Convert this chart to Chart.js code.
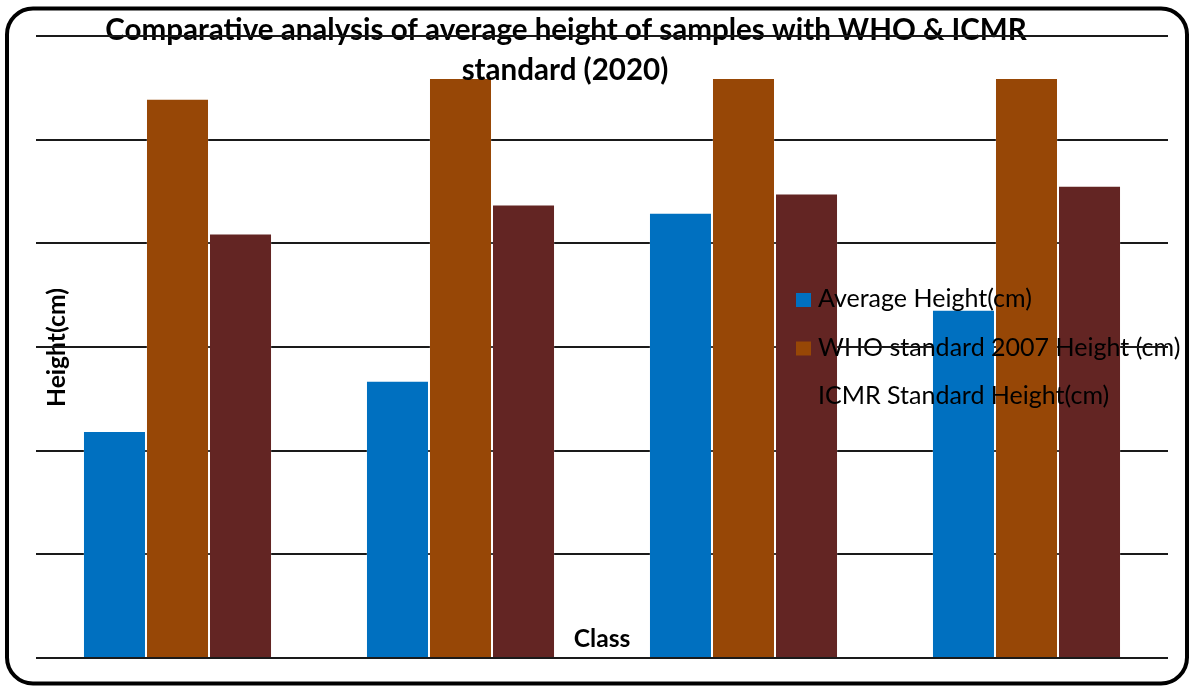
<!DOCTYPE html>
<html>
<head>
<meta charset="utf-8">
<script src="https://cdn.jsdelivr.net/npm/chart.js@4.4.1/dist/chart.umd.min.js"></script>
<style>
  html, body { margin: 0; padding: 0; background: #fff; }
  canvas { display: block; }
</style>
</head>
<body>
<canvas id="heightChart" width="1189" height="686"></canvas>
<script>
// Class-wise heights (cm)
const classes = ['Class I', 'Class II', 'Class III', 'Class IV'];
const averageHeight = [43.8, 53.5, 85.9, 67.2];
const whoHeight = [107.9, 111.9, 111.9, 111.9];
const icmrHeight = [81.9, 87.5, 89.6, 91.1];

const seriesNames = ['Average Height(cm)', 'WHO standard 2007 Height (cm)', 'ICMR Standard Height(cm)'];
const seriesColors = ['#0070C0', '#974706', '#632523'];

const titleLines = ['Comparative analysis of average height of samples with WHO & ICMR', 'standard (2020)'];
const yAxisTitle = 'Height(cm)';
const xAxisTitle = 'Class';

const yMin = 0, yMax = 120, yStep = 20;

const FONT = 'Lato, "Open Sans", "DejaVu Sans", sans-serif';
const GRID_COLOR = '#1a1a1a';

// pick a font size so that the text spans the wanted width
function fitSize(ctx, text, weight, width) {
  ctx.font = weight + ' 100px ' + FONT;
  return 100 * width / ctx.measureText(text).width;
}

// rounded outer frame, behind everything
const framePlugin = {
  id: 'frame',
  beforeDraw(chart) {
    const ctx = chart.ctx;
    ctx.save();
    ctx.fillStyle = '#fff';
    ctx.fillRect(0, 0, chart.width, chart.height);
    ctx.beginPath();
    ctx.roundRect(7, 8.5, 1180, 675, 26);
    ctx.lineWidth = 4;
    ctx.strokeStyle = '#000';
    ctx.stroke();
    ctx.restore();
  }
};

// titles and legend drawn over the bars; grid lines redrawn over them where no bar covers
const overlayPlugin = {
  id: 'overlay',
  afterDraw(chart) {
    const ctx = chart.ctx;
    const area = chart.chartArea;
    ctx.save();
    ctx.fillStyle = '#000';

    // chart title
    const tSize = fitSize(ctx, titleLines[0], 'bold', 922);
    ctx.font = 'bold ' + tSize + 'px ' + FONT;
    ctx.textAlign = 'center';
    ctx.textBaseline = 'alphabetic';
    ctx.fillText(titleLines[0], 566, 40);
    ctx.fillText(titleLines[1], 565, 80);

    // axis titles
    const ySize = fitSize(ctx, yAxisTitle, 'bold', 119);
    ctx.font = 'bold ' + ySize + 'px ' + FONT;
    ctx.save();
    ctx.translate(65, 347.5);
    ctx.rotate(-Math.PI / 2);
    ctx.fillText(yAxisTitle, 0, 0);
    ctx.restore();
    ctx.fillText(xAxisTitle, 602, 647);

    // legend
    const lSize = fitSize(ctx, seriesNames[0], 'normal', 214);
    ctx.font = 'normal ' + lSize + 'px ' + FONT;
    ctx.textAlign = 'left';
    chart.data.datasets.forEach((ds, i) => {
      const base = 307 + i * 48.5;
      ctx.fillStyle = ds.backgroundColor;
      ctx.fillRect(796, base - 14, 15, 14);
      ctx.fillStyle = '#000';
      ctx.fillText(ds.label, 818, base);
    });

    // grid lines on top wherever the bars leave them bare
    const yScale = chart.scales.y;
    const bars = [];
    chart.data.datasets.forEach((ds, i) => {
      chart.getDatasetMeta(i).data.forEach(el => {
        const p = el.getProps(['x', 'y', 'width', 'base'], true);
        bars.push({ l: p.x - p.width / 2, r: p.x + p.width / 2, top: p.y, bottom: p.base });
      });
    });
    bars.sort((a, b) => a.l - b.l);
    ctx.strokeStyle = GRID_COLOR;
    ctx.lineWidth = 2;
    for (let v = yMin; v <= yMax; v += yStep) {
      const py = Math.round(yScale.getPixelForValue(v));
      let x = area.left;
      ctx.beginPath();
      bars.forEach(b => {
        if (v !== yMin && b.top < py && b.bottom > py) {
          if (b.l > x) { ctx.moveTo(x, py); ctx.lineTo(b.l, py); }
          x = Math.max(x, b.r);
        }
      });
      if (x < area.right) { ctx.moveTo(x, py); ctx.lineTo(area.right, py); }
      ctx.stroke();
    }
    ctx.restore();
  }
};

const values = [averageHeight, whoHeight, icmrHeight];

new Chart(document.getElementById('heightChart'), {
  type: 'bar',
  data: {
    labels: classes,
    datasets: values.map((arr, i) => ({
      label: seriesNames[i],
      data: arr,
      backgroundColor: seriesColors[i],
      borderColor: 'rgba(255,255,255,0.15)',
      borderWidth: 1,
      categoryPercentage: 0.668,
      barPercentage: 1.0
    }))
  },
  options: {
    responsive: false,
    animation: false,
    devicePixelRatio: 1,
    layout: { padding: { left: 36, right: 21, top: 36, bottom: 20 } },
    plugins: {
      legend: { display: false },
      title: { display: false },
      tooltip: { enabled: false }
    },
    scales: {
      x: {
        grid: { display: false },
        ticks: { display: false },
        border: { display: false }
      },
      y: {
        min: yMin,
        max: yMax,
        ticks: { display: false, stepSize: yStep },
        grid: { color: GRID_COLOR, lineWidth: 2, drawTicks: false, tickLength: 0 },
        border: { display: false }
      }
    }
  },
  plugins: [framePlugin, overlayPlugin]
});
</script>
</body>
</html>
